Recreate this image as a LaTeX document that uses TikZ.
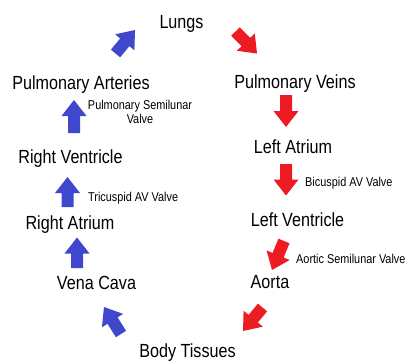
\documentclass[tikz,border=0pt]{standalone}
\usepackage{fontspec}
\setmainfont{Liberation Sans}[FakeStretch=0.85]
\usetikzlibrary{calc}
\definecolor{flowblue}{RGB}{63,72,204}
\definecolor{flowred}{RGB}{237,28,36}
\newcommand\fatarrow[3]{%
  \coordinate (fa-h) at ($(#3)!16pt!(#2)$);
  \fill[#1] ($(#2)!6pt!90:(#3)$) -- ($(fa-h)!6pt!90:(#3)$) -- ($(fa-h)!12.5pt!90:(#3)$)
    -- (#3) -- ($(fa-h)!12.5pt!-90:(#3)$) -- ($(fa-h)!6pt!-90:(#3)$)
    -- ($(#2)!6pt!-90:(#3)$) -- cycle;}
\begin{document}
\begin{tikzpicture}[x=1pt,y=-1pt,
  organ/.style={inner sep=0pt,anchor=base,font=\fontsize{19}{22}\selectfont},
  valve/.style={inner sep=0pt,anchor=base west,font=\fontsize{12.8}{14}\selectfont}]
\useasboundingbox (0,0) rectangle (406,362);
% main labels
\node[organ] (lungs) at (181.5,28) {Lungs};
\node[organ] (pa) at (81,89) {Pulmonary Arteries};
\node[organ] (pv) at (295,88) {Pulmonary Veins};
\node[organ] (rv) at (70.5,163) {Right Ventricle};
\node[organ] (la) at (293,153) {Left Atrium};
\node[organ] (ra) at (70,229) {Right Atrium};
\node[organ] (lv) at (297.5,226) {Left Ventricle};
\node[organ] (vc) at (96.5,289) {Vena Cava};
\node[organ] (ao) at (270,288) {Aorta};
\node[organ] (bt) at (187.5,357.5) {Body Tissues};
% valve labels
\node[valve,anchor=base] (psv) at (140,109.3) {\begin{tabular}[t]{@{}c@{}}Pulmonary Semilunar\\Valve\end{tabular}};
\node[valve] (tav) at (88,201.7) {Tricuspid AV Valve};
\node[valve] (bav) at (305,186) {Bicuspid AV Valve};
\node[valve] (asv) at (296,263.3) {Aortic Semilunar Valve};
% arrow end points
\coordinate (a1s) at (115.5,53.5); \coordinate (a1e) at (135,30);
\coordinate (a2s) at (235.5,31.5); \coordinate (a2e) at (257,53.5);
\coordinate (a3s) at (286,95);     \coordinate (a3e) at (286,127);
\coordinate (a4s) at (286,164);    \coordinate (a4e) at (286,195.5);
\coordinate (a5s) at (284,241);    \coordinate (a5e) at (272,270);
\coordinate (a6s) at (262.5,307.5);\coordinate (a6e) at (243,331);
\coordinate (a7s) at (121,334);    \coordinate (a7e) at (104,307);
\coordinate (a8s) at (77,268);     \coordinate (a8e) at (77,237.5);
\coordinate (a9s) at (67.5,207);   \coordinate (a9e) at (67.5,177);
\coordinate (a10s) at (74,133);    \coordinate (a10e) at (74,100);
\fatarrow{flowblue}{a1s}{a1e}
\fatarrow{flowred}{a2s}{a2e}
\fatarrow{flowred}{a3s}{a3e}
\fatarrow{flowred}{a4s}{a4e}
\fatarrow{flowred}{a5s}{a5e}
\fatarrow{flowred}{a6s}{a6e}
\fatarrow{flowblue}{a7s}{a7e}
\fatarrow{flowblue}{a8s}{a8e}
\fatarrow{flowblue}{a9s}{a9e}
\fatarrow{flowblue}{a10s}{a10e}
\end{tikzpicture}
\end{document}
